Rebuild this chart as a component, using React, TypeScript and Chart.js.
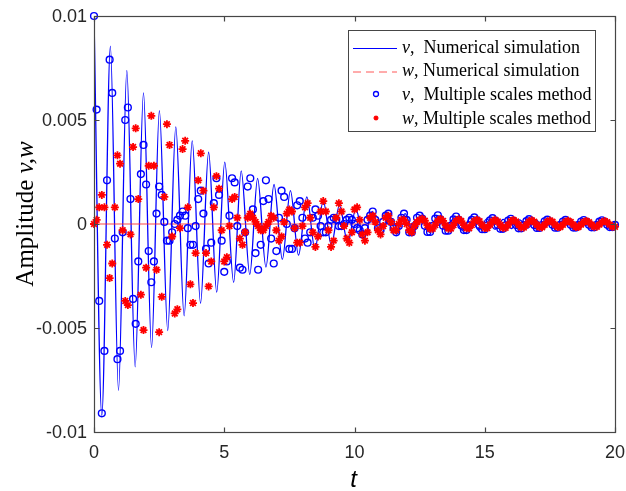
import React, { useEffect, useRef } from 'react';
import { Chart, registerables } from 'chart.js';

Chart.register(...registerables);

// sample spacing of the multiple-scales markers (t = index * step)
const SAMPLE_STEP = 0.1;

// v, multiple scales method (blue circles), t = 0 .. 20
const V_MULTIPLE_SCALES = [
  0.0100, 0.0055, -0.0037, -0.0091, -0.0061, 0.0021, 0.0079, 0.0063, -0.0007, -0.0065,
  -0.0061, -0.0004, 0.0050, 0.0056, 0.0012, -0.0036, -0.0048, -0.0018, 0.0024, 0.0038,
  0.0019, -0.0013, -0.0028, -0.0018, 0.0005, 0.0018, 0.0014, 0.0001, -0.0008, -0.0008,
  -0.0004, 0.0000, 0.0002, 0.0004, 0.0006, 0.0004, -0.0002, -0.0010, -0.0010, -0.0001,
  0.0012, 0.0016, 0.0005, -0.0012, -0.0019, -0.0009, 0.0010, 0.0022, 0.0014, -0.0008,
  -0.0023, -0.0018, 0.0004, 0.0022, 0.0020, -0.0001, -0.0021, -0.0022, -0.0004, 0.0018,
  0.0022, 0.0007, -0.0014, -0.0022, -0.0010, 0.0011, 0.0021, 0.0012, -0.0007, -0.0019,
  -0.0013, 0.0003, 0.0016, 0.0013, 0.0000, -0.0012, -0.0012, -0.0002, 0.0009, 0.0011,
  0.0003, -0.0007, -0.0009, -0.0004, 0.0003, 0.0007, 0.0004, -0.0001, -0.0004, -0.0004,
  -0.0001, 0.0002, 0.0003, 0.0002, -0.0001, -0.0001, 0.0000, 0.0002, 0.0003, 0.0002,
  0.0000, -0.0002, -0.0003, -0.0005, -0.0002, 0.0002, 0.0004, 0.0006, 0.0002, -0.0002,
  -0.0003, 0.0001, 0.0004, 0.0005, 0.0001, -0.0002, -0.0004, -0.0001, 0.0003, 0.0005,
  0.0002, -0.0004, -0.0004, -0.0001, 0.0003, 0.0004,
  0.00026, -0.00009, -0.00038, -0.00038, -0.00009, 0.00026, 0.00042,
  0.00022, -0.00008, -0.00032, -0.00032, -0.00008, 0.00022, 0.00036,
  0.00020, -0.00007, -0.00029, -0.00029, -0.00007, 0.00020, 0.00032,
  0.00017, -0.00006, -0.00025, -0.00025, -0.00006, 0.00017, 0.00028,
  0.00016, -0.00006, -0.00023, -0.00023, -0.00006, 0.00016, 0.00025,
  0.00014, -0.00005, -0.00021, -0.00021, -0.00005, 0.00014, 0.00023,
  0.00013, -0.00005, -0.00019, -0.00019, -0.00005, 0.00013, 0.00021,
  0.00012, -0.00004, -0.00018, -0.00018, -0.00004, 0.00012, 0.00020,
  0.00012, -0.00004, -0.00017, -0.00017, -0.00004, 0.00012, 0.00019,
  0.00011, -0.00004, -0.00016, -0.00016, -0.00004, 0.00011, 0.00018,
  0.00011, -0.00004, -0.00015, -0.00015, -0.00004,
];

// w, multiple scales method (red asterisks), t = 0 .. 20
const W_MULTIPLE_SCALES = [
  0.0000, 0.0002, 0.0008, 0.0014, 0.0008, -0.0010, -0.0026, -0.0019, 0.0008, 0.0033,
  0.0029, -0.0003, -0.0037, -0.0039, -0.0005, 0.0037, 0.0046, 0.0012, -0.0034, -0.0051,
  -0.0021, 0.0028, 0.0052, 0.0028, -0.0022, -0.0052, -0.0035, 0.0013, 0.0048, 0.0038,
  -0.0006, -0.0043, -0.0041, -0.0002, 0.0036, 0.0040, 0.0008, -0.0029, -0.0038, -0.0014,
  0.0021, 0.0034, 0.0016, -0.0014, -0.0030, -0.0018, 0.0008, 0.0023, 0.0017, -0.0003,
  -0.0018, -0.0016, -0.0001, 0.0012, 0.0013, 0.0003, -0.0007, -0.0010, -0.0004, 0.0003,
  0.0005, 0.0003, 0.0001, -0.0001, -0.0003, -0.0003, -0.0001, 0.0001, 0.0004, 0.0003,
  -0.0003, -0.0008, -0.0006, 0.0001, 0.0005, 0.0007, 0.0006, -0.0002, -0.0009, -0.0009,
  -0.0001, 0.0008, 0.0010, 0.0003, -0.0004, -0.0011, -0.0006, 0.0006, 0.0011, 0.0006,
  -0.0003, -0.0011, -0.0008, 0.0003, 0.0010, 0.0006, -0.0001, -0.0007, -0.0009, -0.0004,
  0.0007, 0.0008, 0.0002, -0.0005, -0.0008, -0.0004, 0.0003, 0.0004, 0.0001, -0.0003,
  -0.0005, -0.0001, 0.0003, 0.0004, 0.0001, -0.0003, -0.0003, 0.0000, 0.0002, 0.0002,
  0.0000, -0.0003, -0.0004, -0.0001, 0.0001, 0.0002,
  0.00025, 0.00016, -0.00006, -0.00023, -0.00023, -0.00005, 0.00016,
  0.00024, 0.00015, -0.00006, -0.00022, -0.00022, -0.00005, 0.00015,
  0.00023, 0.00014, -0.00005, -0.00021, -0.00021, -0.00005, 0.00014,
  0.00021, 0.00013, -0.00005, -0.00019, -0.00019, -0.00004, 0.00013,
  0.00020, 0.00012, -0.00005, -0.00018, -0.00018, -0.00004, 0.00013,
  0.00019, 0.00012, -0.00004, -0.00017, -0.00017, -0.00004, 0.00012,
  0.00018, 0.00011, -0.00004, -0.00016, -0.00016, -0.00004, 0.00011,
  0.00017, 0.00011, -0.00004, -0.00015, -0.00015, -0.00004, 0.00011,
  0.00016, 0.00010, -0.00004, -0.00014, -0.00014, -0.00003, 0.00010,
  0.00015, 0.00009, -0.00003, -0.00013, -0.00013, -0.00003, 0.00009,
  0.00014, 0.00009, -0.00003, -0.00013, -0.00013,
];

// v, numerical simulation (blue line): turning points
const V_NUMERICAL_T = [
  0, 0.30, 0.63, 0.94, 1.26, 1.58, 1.90, 2.21, 2.51, 2.83,
  3.14, 3.46, 3.77, 4.09, 4.40, 4.71, 5.02, 5.36, 5.65, 5.98,
  6.28, 6.60, 6.91, 7.23, 7.54, 7.85, 8.17, 8.48, 8.80, 9.11,
  9.42, 9.74, 10.05, 10.37, 10.68, 11.00, 11.31, 11.62, 11.94, 12.25,
  12.57, 12.88, 13.19, 13.51, 13.82, 14.14, 14.45, 14.77, 15.08, 15.39,
  15.71, 16.02, 16.34, 16.65, 16.96, 17.28, 17.59, 17.91, 18.22, 18.54,
  18.85, 19.16, 19.48, 19.79, 20.00,
];
const V_NUMERICAL = [
  0.0100, -0.0092, 0.00855, -0.0080, 0.00738, -0.00687, 0.0063, -0.00594, 0.00545, -0.00512,
  0.00467, -0.00441, 0.0040, -0.00381, 0.00345, -0.00328, 0.00297, -0.00281, 0.00255, -0.00243,
  0.00219, -0.00207, 0.0019, -0.0017, 0.0016, -0.0015, 0.0013, -0.0012, 0.0011, -0.0010,
  0.0009, -0.0009, 0.0007, -0.0007, 0.0006, -0.0006, 0.0005, -0.0005, 0.0005, -0.0004,
  0.0004, -0.0004, 0.0004, -0.0003, 0.0003, -0.0003, 0.0003, -0.0003, 0.00025, -0.00025,
  0.00022, -0.00022, 0.0002, -0.0002, 0.0002, -0.00018, 0.00018, -0.00016, 0.00016, -0.00015,
  0.00015, -0.00014, 0.00014, -0.00013, 0.0001,
];

// w, numerical simulation (red dashed line)
const W_NUMERICAL_T = [0, 20];
const W_NUMERICAL = [0, 0];

const X_TICKS = [0, 5, 10, 15, 20];
const X_TICK_LABELS = ['0', '5', '10', '15', '20'];
const Y_TICKS = [-0.01, -0.005, 0, 0.005, 0.01];
const Y_TICK_LABELS = ['-0.01', '-0.005', '0', '0.005', '0.01'];

const LEGEND_ITEMS = [
  { sym: 'v', rest: ',  Numerical simulation', kind: 'line' },
  { sym: 'w', rest: ', Numerical simulation', kind: 'dash' },
  { sym: 'v', rest: ',  Multiple scales method', kind: 'circle' },
  { sym: 'w', rest: ', Multiple scales method', kind: 'star' },
];

const BLUE = '#0000ff';
const RED = '#ff0000';
const AXIS = 'rgb(70,70,70)';
const SERIF = '"Liberation Serif", "Times New Roman", serif';
const SANS = '"Liberation Sans", Arial, sans-serif';

const decorPlugin = {
  id: 'decor',
  afterDraw(chart: any) {
    const { ctx, chartArea: a, scales } = chart;
    const xs = scales.x;
    const ys = scales.y;
    ctx.save();
    // frame
    ctx.strokeStyle = AXIS;
    ctx.lineWidth = 1.2;
    const L = Math.round(a.left) + 0.5;
    const R = Math.round(a.right) + 0.5;
    const T = Math.round(a.top) + 0.5;
    const B = Math.round(a.bottom) + 0.5;
    ctx.strokeRect(L, T, R - L, B - T);
    const tl = 5;
    ctx.beginPath();
    X_TICKS.forEach((v) => {
      const px = Math.round(xs.getPixelForValue(v)) + 0.5;
      ctx.moveTo(px, B); ctx.lineTo(px, B - tl);
      ctx.moveTo(px, T); ctx.lineTo(px, T + tl);
    });
    Y_TICKS.forEach((v) => {
      const py = Math.round(ys.getPixelForValue(v)) + 0.5;
      ctx.moveTo(L, py); ctx.lineTo(L + tl, py);
      ctx.moveTo(R, py); ctx.lineTo(R - tl, py);
    });
    ctx.stroke();

    // tick labels
    ctx.fillStyle = '#262626';
    ctx.font = `18px ${SANS}`;
    ctx.textAlign = 'center';
    ctx.textBaseline = 'middle';
    X_TICKS.forEach((v, i) => {
      ctx.fillText(X_TICK_LABELS[i], xs.getPixelForValue(v), a.bottom + 21);
    });
    ctx.textAlign = 'right';
    Y_TICKS.forEach((v, i) => {
      ctx.fillText(Y_TICK_LABELS[i], a.left - 7, ys.getPixelForValue(v) + 1);
    });

    // y-axis title: "Amplitude v,w"
    ctx.fillStyle = '#000';
    ctx.save();
    ctx.translate(33, (a.top + a.bottom) / 2 - 10);
    ctx.rotate(-Math.PI / 2);
    ctx.textBaseline = 'alphabetic';
    ctx.font = `25px ${SERIF}`;
    const p1 = 'Amplitude ';
    const w1 = ctx.measureText(p1).width;
    ctx.font = `italic 25px ${SERIF}`;
    const p2 = 'v,w';
    const w2 = ctx.measureText(p2).width;
    const sx = -(w1 + w2) / 2;
    ctx.font = `25px ${SERIF}`;
    ctx.textAlign = 'left';
    ctx.fillText(p1, sx, 0);
    ctx.font = `italic 25px ${SERIF}`;
    ctx.fillText(p2, sx + w1, 0);
    ctx.restore();

    // x-axis title: "t"
    ctx.font = `italic 24px ${SANS}`;
    ctx.textAlign = 'center';
    ctx.textBaseline = 'alphabetic';
    ctx.fillText('t', (a.left + a.right) / 2 - 1, 487);

    // legend
    const bx = 348.5, by = 30.5, bw = 247, bh = 101;
    ctx.fillStyle = '#fff';
    ctx.fillRect(bx, by, bw, bh);
    ctx.strokeStyle = AXIS;
    ctx.lineWidth = 1;
    ctx.strokeRect(bx, by, bw, bh);
    const rowY = [48, 71.5, 95, 119];
    LEGEND_ITEMS.forEach((it, i) => {
      const y = rowY[i];
      ctx.save();
      if (it.kind === 'line' || it.kind === 'dash') {
        ctx.strokeStyle = it.kind === 'line' ? BLUE : 'rgba(255,60,60,0.85)';
        ctx.lineWidth = 1;
        ctx.setLineDash(it.kind === 'dash' ? [8, 5] : []);
        ctx.beginPath();
        ctx.moveTo(353, y + 0.5);
        ctx.lineTo(397, y + 0.5);
        ctx.stroke();
      } else if (it.kind === 'circle') {
        ctx.strokeStyle = BLUE;
        ctx.lineWidth = 1.3;
        ctx.beginPath();
        ctx.arc(376, y - 1, 2.5, 0, Math.PI * 2);
        ctx.stroke();
      } else {
        ctx.strokeStyle = RED;
        ctx.lineWidth = 1.3;
        ctx.beginPath();
        const r = 2.5, cx = 376, cy = y - 1;
        ctx.moveTo(cx - r, cy); ctx.lineTo(cx + r, cy);
        ctx.moveTo(cx, cy - r); ctx.lineTo(cx, cy + r);
        ctx.moveTo(cx - r * 0.7, cy - r * 0.7); ctx.lineTo(cx + r * 0.7, cy + r * 0.7);
        ctx.moveTo(cx - r * 0.7, cy + r * 0.7); ctx.lineTo(cx + r * 0.7, cy - r * 0.7);
        ctx.stroke();
      }
      ctx.restore();
      ctx.fillStyle = '#000';
      ctx.textAlign = 'left';
      ctx.textBaseline = 'middle';
      ctx.font = `italic 18px ${SERIF}`;
      ctx.fillText(it.sym, 402, y);
      const sw = ctx.measureText(it.sym).width;
      ctx.font = `18px ${SERIF}`;
      ctx.fillText(it.rest, 402 + sw, y);
    });
    ctx.restore();
  },
};

export default function App() {
  const ref = useRef<HTMLCanvasElement | null>(null);

  useEffect(() => {
    if (!ref.current) return;
    const vMs = V_MULTIPLE_SCALES.map((y, i) => ({ x: i * SAMPLE_STEP, y }));
    const wMs = W_MULTIPLE_SCALES.map((y, i) => ({ x: i * SAMPLE_STEP, y }));
    const vNum = V_NUMERICAL_T.map((x, i) => ({ x, y: V_NUMERICAL[i] }));
    const wNum = W_NUMERICAL_T.map((x, i) => ({ x, y: W_NUMERICAL[i] }));

    const chart = new Chart(ref.current, {
      type: 'scatter',
      data: {
        datasets: [
          {
            label: 'w, Multiple scales method',
            data: wMs,
            pointStyle: 'star',
            pointRadius: 4,
            pointBorderWidth: 1.8,
            borderColor: RED,
            backgroundColor: RED,
            showLine: false,
            clip: false,
            order: 0,
          } as any,
          {
            label: 'v, Multiple scales method',
            data: vMs,
            pointStyle: 'circle',
            pointRadius: 3.4,
            pointBorderWidth: 1.4,
            borderColor: BLUE,
            backgroundColor: 'rgba(0,0,0,0)',
            showLine: false,
            clip: false,
            order: 1,
          } as any,
          {
            label: 'w, Numerical simulation',
            data: wNum,
            showLine: true,
            pointRadius: 0,
            borderColor: 'rgba(255,40,40,0.85)',
            borderWidth: 1.1,
            order: 2,
          } as any,
          {
            label: 'v, Numerical simulation',
            data: vNum,
            showLine: true,
            pointRadius: 0,
            borderColor: BLUE,
            borderWidth: 1.3,
            cubicInterpolationMode: 'monotone',
            order: 3,
          } as any,
        ],
      },
      options: {
        responsive: false,
        animation: false,
        events: [],
        layout: { padding: { left: 0, right: 11, top: 16, bottom: 0 } },
        plugins: { legend: { display: false }, tooltip: { enabled: false }, title: { display: false } },
        scales: {
          x: {
            type: 'linear',
            min: 0,
            max: 20,
            grid: { display: false, drawTicks: false },
            border: { display: false },
            ticks: { display: false },
            afterFit: (s: any) => { s.height = 59; },
          },
          y: {
            type: 'linear',
            min: -0.01,
            max: 0.01,
            grid: { display: false, drawTicks: false },
            border: { display: false },
            ticks: { display: false },
            afterFit: (s: any) => { s.width = 94; },
          },
        },
      } as any,
      plugins: [decorPlugin],
    });
    return () => chart.destroy();
  }, []);

  return (
    <div style={{ position: 'fixed', left: 0, top: 0, width: 626, height: 491, background: '#fff' }}>
      <canvas ref={ref} width={626} height={491} style={{ width: 626, height: 491, display: 'block' }} />
    </div>
  );
}
